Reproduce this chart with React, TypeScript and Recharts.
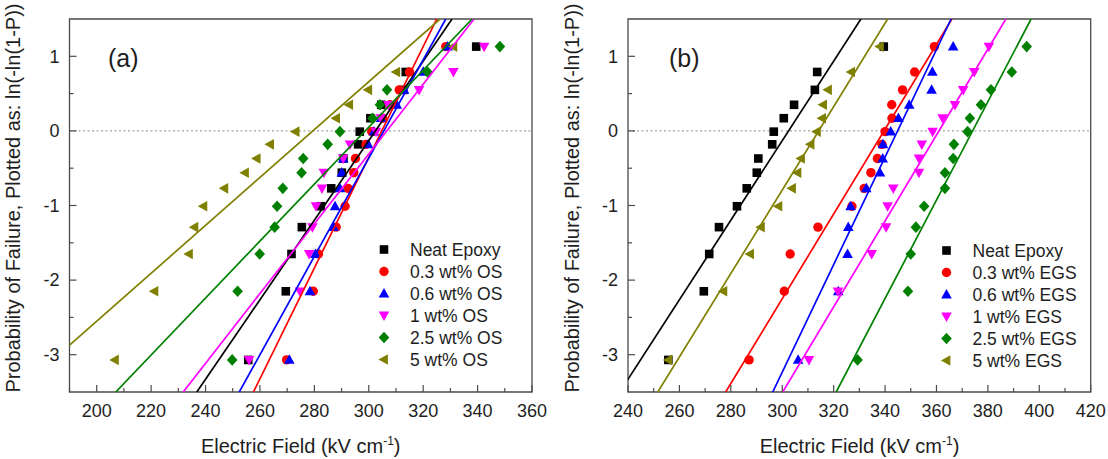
import React from "react";
import { ScatterChart, Scatter, XAxis, YAxis, ReferenceLine, ReferenceArea } from "recharts";

// Plotting positions ln(-ln(1-P)) shared by every sample (15 specimens each)
const rankY = [-3.07, -2.15, -1.65, -1.29, -1.01, -0.77, -0.56, -0.37, -0.18, -0.01, 0.17, 0.35, 0.55, 0.79, 1.13];

// Breakdown fields (kV/cm), panel (a) OS and panel (b) EGS
const neatEpoxy = [255.7, 269.5, 271.6, 275.4, 282.4, 286.2, 290.1, 290.7, 296.1, 296.7, 300.6, 304.6, 312.7, 313.6, 339.5];
const os03 = [269.8, 279.6, 281.5, 288.0, 291.3, 292.4, 294.5, 295.1, 299.0, 301.1, 305.1, 307.8, 311.2, 315.0, 328.3];
const os06 = [270.8, 278.4, 280.4, 287.0, 287.6, 289.4, 290.1, 290.6, 299.8, 301.9, 304.5, 310.3, 313.0, 320.0, 329.0];
const os1 = [256.0, 274.7, 278.1, 279.3, 280.6, 282.8, 283.5, 290.6, 293.1, 302.7, 304.4, 307.2, 318.5, 331.1, 342.4];
const os25 = [249.8, 251.8, 259.9, 265.4, 266.3, 268.4, 275.3, 275.9, 284.9, 289.4, 301.4, 304.1, 306.7, 321.6, 348.2];
const os5 = [206.7, 221.2, 233.9, 235.9, 239.2, 246.9, 254.5, 258.8, 263.7, 273.1, 288.0, 292.8, 299.8, 310.1, 331.1];

const egs03 = [287.1, 300.8, 303.1, 313.9, 327.1, 331.9, 334.5, 337.0, 338.8, 340.0, 342.7, 342.6, 346.8, 351.5, 359.2];
const egs06 = [306.2, 321.8, 325.4, 325.7, 326.6, 332.7, 338.0, 339.1, 339.2, 342.2, 345.2, 349.4, 358.1, 358.4, 366.5];
const egs1 = [310.4, 321.7, 334.8, 340.4, 341.0, 343.2, 353.2, 353.2, 354.3, 358.5, 362.4, 367.2, 370.4, 374.7, 380.4];
const egs25 = [329.3, 348.9, 350.0, 352.0, 355.2, 363.3, 363.3, 366.5, 366.8, 372.1, 373.0, 377.3, 381.2, 389.3, 395.1];
const egs5 = [255.7, 277.1, 287.5, 291.7, 298.5, 303.8, 305.9, 307.3, 311.0, 313.5, 315.5, 315.9, 317.8, 326.8, 338.0];

// Weibull fit lines: x at y = -3.5 and at y = 1.5
const fitY = [-3.5, 1.5];
const fitNeat = [236.8, 330.6];
const fitOs03 = [257.6, 325.0];
const fitOs06 = [252.4, 328.3];
const fitOs1 = [231.8, 338.7];
const fitOs25 = [207.0, 338.0];
const fitOs5 = [170.4, 326.2];
const fitEgs03 = [278.0, 366.0];
const fitEgs06 = [296.3, 365.7];
const fitEgs1 = [300.2, 387.0];
const fitEgs25 = [321.0, 396.8];
const fitEgs5 = [251.6, 341.0];

const labelsA = ["Neat Epoxy", "0.3 wt% OS", "0.6 wt% OS", "1 wt% OS", "2.5 wt% OS", "5 wt% OS"];
const labelsB = ["Neat Epoxy", "0.3 wt% EGS", "0.6 wt% EGS", "1 wt% EGS", "2.5 wt% EGS", "5 wt% EGS"];

const xTicksA = [190, 200, 210, 220, 230, 240, 250, 260, 270, 280, 290, 300, 310, 320, 330, 340, 350, 360];
const xMajorA = [200, 220, 240, 260, 280, 300, 320, 340, 360];
const xTicksB = [240, 250, 260, 270, 280, 290, 300, 310, 320, 330, 340, 350, 360, 370, 380, 390, 400, 410, 420];
const xMajorB = [240, 260, 280, 300, 320, 340, 360, 380, 400, 420];
const yTicks = [-3, -2.5, -2, -1.5, -1, -0.5, 0, 0.5, 1];
const yMajor = [-3, -2, -1, 0, 1];

const FONT = "'Liberation Sans', Arial, Helvetica, sans-serif";
const AXIS = "#4a4a4a";
const TEXT = "#1e1e1e";

type Kind = "square" | "circle" | "up" | "down" | "diamond" | "left";
const styles: { color: string; kind: Kind }[] = [
  { color: "#000000", kind: "square" },
  { color: "#ff0000", kind: "circle" },
  { color: "#0000ff", kind: "up" },
  { color: "#ff00ff", kind: "down" },
  { color: "#008000", kind: "diamond" },
  { color: "#808000", kind: "left" },
];

function Marker({ kind, cx, cy, color }: { kind: Kind; cx: number; cy: number; color: string }) {
  if (cx == null || cy == null) return <g />;
  switch (kind) {
    case "square":
      return <rect x={cx - 4.3} y={cy - 4.3} width={8.6} height={8.6} fill={color} />;
    case "circle":
      return <circle cx={cx} cy={cy} r={4.7} fill={color} />;
    case "up":
      return <polygon points={`${cx},${cy - 5.6} ${cx - 5.3},${cy + 3.9} ${cx + 5.3},${cy + 3.9}`} fill={color} />;
    case "down":
      return <polygon points={`${cx - 5.3},${cy - 3.9} ${cx + 5.3},${cy - 3.9} ${cx},${cy + 5.6}`} fill={color} />;
    case "diamond":
      return <polygon points={`${cx},${cy - 5.8} ${cx + 5.3},${cy} ${cx},${cy + 5.8} ${cx - 5.3},${cy}`} fill={color} />;
    case "left":
      return <polygon points={`${cx - 5.6},${cy} ${cx + 3.9},${cy - 5.3} ${cx + 3.9},${cy + 5.3}`} fill={color} />;
  }
  return <g />;
}

const toPts = (xs: number[]) => xs.map((x, i) => ({ x, y: rankY[i] }));
const toFit = (xs: number[]) => xs.map((x, i) => ({ x, y: fitY[i] }));

const XTick = (props: any) => {
  const { x, y, payload, majors } = props;
  const v = payload.value;
  const major = majors.includes(v);
  return (
    <g>
      <line x1={x} x2={x} y1={y} y2={y - (major ? 7 : 4)} stroke={AXIS} strokeWidth={1.2} />
      {major && (
        <text x={x} y={y + 24.5} textAnchor="middle" fontSize={18} fill={TEXT} fontFamily={FONT}>
          {v}
        </text>
      )}
    </g>
  );
};

const YTick = (props: any) => {
  const { x, y, payload } = props;
  const v = payload.value;
  const major = yMajor.includes(v);
  return (
    <g>
      <line x1={x} x2={x + (major ? 7 : 4)} y1={y} y2={y} stroke={AXIS} strokeWidth={1.2} />
      {major && (
        <text x={x - 10} y={y + 6.3} textAnchor="end" fontSize={18} fill={TEXT} fontFamily={FONT}>
          {v}
        </text>
      )}
    </g>
  );
};

type PanelProps = {
  left: number;
  domain: [number, number];
  ticks: number[];
  majors: number[];
  data: number[][];
  fits: number[][];
  yWidth: number;
  marginRight: number;
};

function Panel({ left, domain, ticks, majors, data, fits, yWidth, marginRight }: PanelProps) {
  return (
    <div style={{ position: "absolute", left, top: 0 }}>
      <ScatterChart width={554} height={459} margin={{ top: 19, right: marginRight, bottom: 37, left: 0 }}>
        <XAxis
          type="number"
          dataKey="x"
          domain={domain}
          allowDataOverflow
          ticks={ticks}
          interval={0}
          tickSize={0}
          tickMargin={0}
          tickLine={false}
          axisLine={false}
          height={30}
          tick={(p: any) => <XTick {...p} majors={majors} />}
        />
        <YAxis
          type="number"
          dataKey="y"
          domain={[-3.5, 1.5]}
          allowDataOverflow
          ticks={yTicks}
          interval={0}
          tickSize={0}
          tickMargin={0}
          tickLine={false}
          axisLine={false}
          width={yWidth}
          tick={(p: any) => <YTick {...p} />}
        />
        <ReferenceLine y={0} stroke="#8a8a8a" strokeWidth={1} strokeDasharray="2 2.5" />
        {data.map((xs, i) => (
          <Scatter
            key={"p" + i}
            data={toPts(xs)}
            fill={styles[i].color}
            isAnimationActive={false}
            shape={(p: any) => <Marker kind={styles[i].kind} cx={p.cx} cy={p.cy} color={styles[i].color} />}
          />
        ))}
        {fits.map((xs, i) => (
          <Scatter
            key={"f" + i}
            data={toFit(xs)}
            fill={styles[i].color}
            line={{ stroke: styles[i].color, strokeWidth: 1.7 }}
            isAnimationActive={false}
            shape={() => <g />}
          />
        ))}
        <ReferenceArea
          x1={domain[0]}
          x2={domain[1]}
          y1={-3.5}
          y2={1.5}
          fill="none"
          fillOpacity={0}
          stroke={AXIS}
          strokeWidth={1.3}
          ifOverflow="visible"
        />
      </ScatterChart>
    </div>
  );
}

function Legend({ x, y0, labels }: { x: number; y0: number; labels: string[] }) {
  return (
    <g>
      {labels.map((t, i) => (
        <g key={t}>
          <Marker kind={styles[i].kind} cx={x} cy={y0 + i * 22} color={styles[i].color} />
          <text x={x + 26} y={y0 + i * 22 + 6} fontSize={17.5} fill={TEXT} fontFamily={FONT}>
            {t}
          </text>
        </g>
      ))}
    </g>
  );
}

function XTitle({ cx }: { cx: number }) {
  return (
    <text x={cx} y={453} textAnchor="middle" fontSize={20} fill={TEXT} fontFamily={FONT}>
      Electric Field (kV cm
      <tspan fontSize={12} dy={-8}>-1</tspan>
      <tspan dy={8}>)</tspan>
    </text>
  );
}

function YTitle({ cx }: { cx: number }) {
  return (
    <text
      x={cx}
      y={198}
      transform={`rotate(-90 ${cx} 198)`}
      textAnchor="middle"
      dominantBaseline="central"
      fontSize={20}
      fill={TEXT}
      fontFamily={FONT}
    >
      Probability of Failure, Plotted as: ln(-ln(1-P))
    </text>
  );
}

export default function App() {
  return (
    <div style={{ position: "absolute", left: 0, top: 0, width: 1108, height: 459, background: "#fff", overflow: "hidden" }}>
      <Panel
        left={0}
        domain={[190, 360]}
        ticks={xTicksA}
        majors={xMajorA}
        data={[neatEpoxy, os03, os06, os1, os25, os5]}
        fits={[fitNeat, fitOs03, fitOs06, fitOs1, fitOs25, fitOs5]}
        yWidth={69.5}
        marginRight={22}
      />
      <Panel
        left={554}
        domain={[240, 420]}
        ticks={xTicksB}
        majors={xMajorB}
        data={[neatEpoxy, egs03, egs06, egs1, egs25, egs5]}
        fits={[fitNeat, fitEgs03, fitEgs06, fitEgs1, fitEgs25, fitEgs5]}
        yWidth={74}
        marginRight={17.3}
      />
      <svg width={1108} height={459} style={{ position: "absolute", left: 0, top: 0, pointerEvents: "none" }}>
        <text x={108} y={67} fontSize={25} fill={TEXT} fontFamily={FONT}>(a)</text>
        <text x={669} y={67} fontSize={25} fill={TEXT} fontFamily={FONT}>(b)</text>
        <Legend x={384} y0={249.5} labels={labelsA} />
        <Legend x={946.5} y0={250.5} labels={labelsB} />
        <XTitle cx={300.7} />
        <XTitle cx={859.5} />
        <YTitle cx={13} />
        <YTitle cx={572} />
      </svg>
    </div>
  );
}
